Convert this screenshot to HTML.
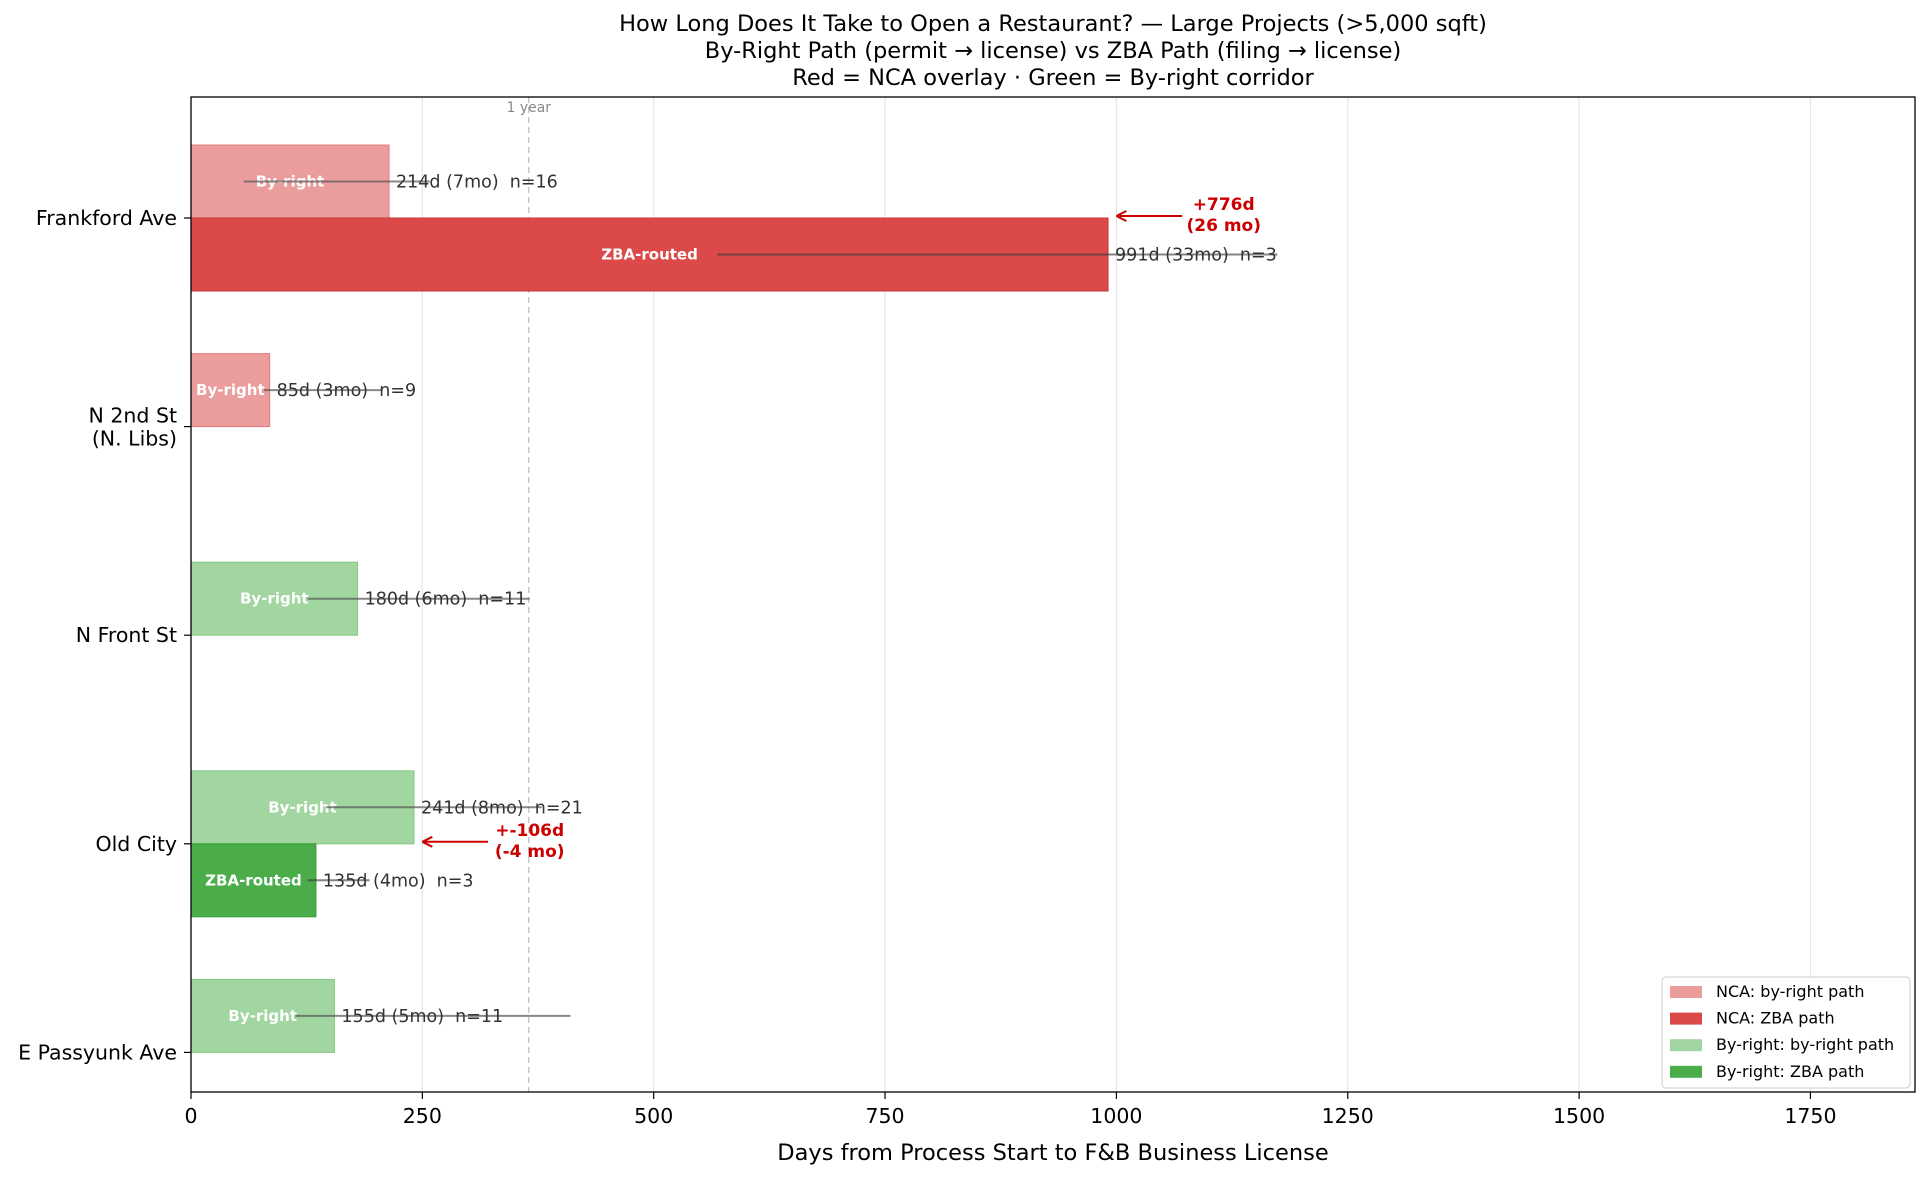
<!DOCTYPE html>
<html><head><meta charset="utf-8">
<style>
html,body{margin:0;padding:0;background:#fff;}
svg{display:block;font-family:"DejaVu Sans","Liberation Sans",sans-serif;}
text{white-space:pre;}
</style></head>
<body>
<svg id="chart" width="1930" height="1180" viewBox="0 0 1930 1180" xmlns="http://www.w3.org/2000/svg">
<g font-size="22.5" text-anchor="middle" fill="#000">
<text x="1053" y="31">How Long Does It Take to Open a Restaurant? — Large Projects (&gt;5,000 sqft)</text>
<text x="1053" y="58">By-Right Path (permit → license) vs ZBA Path (filing → license)</text>
<text x="1053" y="85">Red = NCA overlay · Green = By-right corridor</text>
</g>
<g id="plot"></g>
</svg>
<script>
const categories = ["Frankford Ave", "N 2nd St\n(N. Libs)", "N Front St", "Old City", "E Passyunk Ave"];
const isNCA = [true, true, false, false, false];
const byRightDays = [214, 85, 180, 241, 155];
const byRightMonths = [7, 3, 6, 8, 5];
const byRightN = [16, 9, 11, 21, 11];
const byRightLow = [57, 79, 126, 146, 113];
const byRightHigh = [258, 207, 366, 379, 410];
const zbaDays = [991, null, null, 135, null];
const zbaMonths = [33, null, null, 4, null];
const zbaN = [3, null, null, 3, null];
const zbaLow = [569, null, null, 126, null];
const zbaHigh = [1174, null, null, 193, null];
const deltaDays = [776, null, null, -106, null];
const deltaMonths = [26, null, null, -4, null];
const xTicks = [0, 250, 500, 750, 1000, 1250, 1500, 1750];

const L = 191, R = 1915, T = 97, B = 1092, XMAX = 1863;
const x = d => L + d * (R - L) / XMAX;
const y = i => 218 + i * 208.6;
const BH = 73;
const NS = "http://www.w3.org/2000/svg";
const plot = document.getElementById('plot');
function mk(tag, attrs, parent, text) {
  const e = document.createElementNS(NS, tag);
  for (const k in attrs) e.setAttribute(k, attrs[k]);
  if (text !== undefined) e.textContent = text;
  (parent || plot).appendChild(e);
  return e;
}

xTicks.forEach(t => {
  const g = mk('line', {x1: x(t), x2: x(t), y1: T, y2: B, stroke: '#e6e6e6', 'stroke-width': 1.2});
  
  
});
const yl = mk('line', {x1: x(365), x2: x(365), y1: T, y2: B, stroke: '#bbb', 'stroke-width': 1.2, 'stroke-dasharray': '6,4'});


const ylt = mk('text', {x: x(365), y: 112, 'font-size': 14, fill: '#888', 'text-anchor': 'middle'}, plot, '1 year');



const colors = {ncaBR: '#eb9d9d', ncaZ: '#db4949', grBR: '#a2d6a0', grZ: '#4bad4a'};
const edges = {ncaBR: '#e47b7b', ncaZ: '#c93a3a', grBR: '#86c884', grZ: '#3a9a39'};

categories.forEach((c, i) => {
  const nca = isNCA[i];
  const bk = nca ? 'ncaBR' : 'grBR';
  const y0 = y(i) - BH;
  const b = mk('rect', {x: x(0), y: y0, width: x(byRightDays[i]) - x(0), height: BH, fill: colors[bk], stroke: edges[bk], 'stroke-width': 1});
  
  
  const cy = y0 + BH / 2;
  const bl = mk('text', {x: (x(0) + x(byRightDays[i])) / 2, y: cy + 5, 'font-size': 15, 'font-weight': 'bold', fill: '#fff', 'text-anchor': 'middle'}, plot, 'By-right');
  
  
  const el = mk('line', {x1: x(byRightLow[i]), x2: x(byRightHigh[i]), y1: cy, y2: cy, stroke: '#555', 'stroke-opacity': 0.7, 'stroke-width': 2});
  
  
  const vl = mk('text', {x: x(byRightDays[i]) + 7, y: cy + 6, 'font-size': 17.5, fill: '#333'}, plot, byRightDays[i] + "d (" + byRightMonths[i] + "mo)  n=" + byRightN[i]);
  
  
  if (zbaDays[i] != null) {
    const zk = nca ? 'ncaZ' : 'grZ';
    const zy = y(i);
    const z = mk('rect', {x: x(0), y: zy, width: x(zbaDays[i]) - x(0), height: BH, fill: colors[zk], stroke: edges[zk], 'stroke-width': 1});
    
    
    const zc = zy + BH / 2;
    const zl = mk('text', {x: (x(0) + x(zbaDays[i])) / 2, y: zc + 5, 'font-size': 15, 'font-weight': 'bold', fill: '#fff', 'text-anchor': 'middle'}, plot, 'ZBA-routed');
    
    
    const ze = mk('line', {x1: x(zbaLow[i]), x2: x(zbaHigh[i]), y1: zc, y2: zc, stroke: '#333', 'stroke-opacity': 0.6, 'stroke-width': 2});
    
    
    const zv = mk('text', {x: x(zbaDays[i]) + 7, y: zc + 6, 'font-size': 17.5, fill: '#333'}, plot, zbaDays[i] + "d (" + zbaMonths[i] + "mo)  n=" + zbaN[i]);
    
    
    const mx = Math.max(zbaDays[i], byRightDays[i]);
    const ay = y(i) - 2;
    const ar = mk('line', {x1: x(mx + 80), x2: x(mx + 12), y1: ay, y2: ay, stroke: '#cc0000', 'stroke-width': 2});
    
    
    const ah = mk('path', {d: `M${x(mx + 9)},${ay} l10,-5 M${x(mx + 9)},${ay} l10,5`, stroke: '#cc0000', 'stroke-width': 2, fill: 'none'});
    
    
    const at = mk('text', {x: x(mx + 125), y: ay - 6, 'font-size': 17, 'font-weight': 'bold', fill: '#cc0000', 'text-anchor': 'middle'});
    
    
    mk('tspan', {x: x(mx + 125), dy: 0}, at, '+' + deltaDays[i] + 'd');
    mk('tspan', {x: x(mx + 125), dy: 21}, at, '(' + deltaMonths[i] + ' mo)');
  }
  const tk = mk('line', {x1: L - 7, x2: L, y1: y(i), y2: y(i), stroke: '#000', 'stroke-width': 1.2});
  
  
  const lines = c.split('\n');
  const yt = mk('text', {x: L - 14, y: y(i) + 7 - (lines.length - 1) * 11, 'font-size': 20.5, 'text-anchor': 'end', fill: '#000'});
  
  
  lines.forEach((ln, k) => mk('tspan', {x: L - 14, dy: k === 0 ? 0 : 23}, yt, ln));
});

const fr = mk('rect', {x: L, y: T, width: R - L, height: B - T, fill: 'none', stroke: '#000', 'stroke-width': 1.3});


xTicks.forEach(t => {
  const tk = mk('line', {x1: x(t), x2: x(t), y1: B, y2: B + 7, stroke: '#000', 'stroke-width': 1.2});
  
  
  const tl = mk('text', {x: x(t), y: B + 31, 'font-size': 20.5, 'text-anchor': 'middle', fill: '#000'}, plot, String(t));
  
  
});
const xt = mk('text', {x: (L + R) / 2, y: 1160, 'font-size': 22.5, 'text-anchor': 'middle', fill: '#000'}, plot, 'Days from Process Start to F&B Business License');



const lg = mk('g', {});


mk('rect', {x: 1662, y: 977, width: 248, height: 111, rx: 4, fill: '#fff', 'fill-opacity': 0.85, stroke: '#ccc'}, lg);
const legItems = [['ncaBR', 'NCA: by-right path'], ['ncaZ', 'NCA: ZBA path'], ['grBR', 'By-right: by-right path'], ['grZ', 'By-right: ZBA path']];
legItems.forEach((it, k) => {
  const ly = 992 + k * 26.6;
  const e = mk('g', {}, lg);
  
  
  mk('rect', {x: 1670, y: ly - 6, width: 32, height: 12, fill: colors[it[0]]}, e);
  mk('text', {x: 1716, y: ly + 5, 'font-size': 16, fill: '#000'}, e, it[1]);
});
</script>
</body></html>
